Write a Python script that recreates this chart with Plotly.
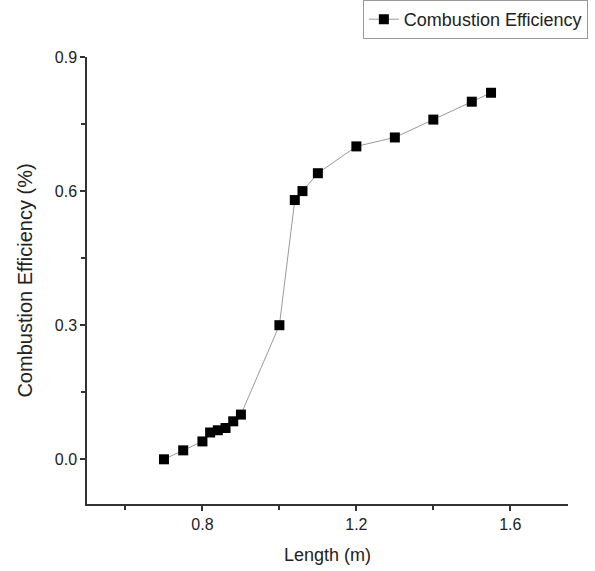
import plotly.graph_objects as go

length_m = [0.70, 0.75, 0.80, 0.82, 0.84, 0.86, 0.88, 0.90, 1.00, 1.04, 1.06, 1.10, 1.20, 1.30, 1.40, 1.50, 1.55]
efficiency = [0.00, 0.02, 0.04, 0.06, 0.065, 0.07, 0.085, 0.10, 0.30, 0.58, 0.60, 0.64, 0.70, 0.72, 0.76, 0.80, 0.82]
x_ticks = [0.8, 1.2, 1.6]
y_ticks = [0.0, 0.3, 0.6, 0.9]

fig = go.Figure()
fig.add_trace(go.Scatter(
    x=length_m, y=efficiency, mode="lines+markers",
    name="Combustion Efficiency",
    line=dict(color="#9a9a9a", width=1),
    marker=dict(symbol="square", size=10, color="black"),
))

font = "Liberation Sans, Arial, sans-serif"
fig.update_layout(
    width=595, height=571,
    margin=dict(l=87, r=27, t=57, b=67),
    paper_bgcolor="white", plot_bgcolor="white",
    font=dict(family=font, color="#222"),
    showlegend=True,
    legend=dict(xref="container", yref="container", x=0.988, y=1.0,
                xanchor="right", yanchor="top", orientation="h",
                bordercolor="#999", borderwidth=1, bgcolor="white",
                font=dict(size=18, family=font), itemwidth=30,
                tracegroupgap=0),
    xaxis=dict(range=[0.5, 1.75], tickvals=x_ticks, ticktext=[f"{v:.1f}" for v in x_ticks],
               automargin=False,
               showgrid=False, zeroline=False, showline=True, linecolor="#333", linewidth=1.5,
               ticks="outside", ticklen=5, tickcolor="#333", tickwidth=1.5,
               tickfont=dict(size=16), title=dict(text="Length (m)", font=dict(size=18), standoff=16),
               minor=dict(tickvals=[0.6, 1.0, 1.4], ticks="outside", ticklen=4, tickcolor="#333")),
    yaxis=dict(range=[-0.1, 0.9], tickvals=y_ticks, ticktext=[f"{v:.1f}" for v in y_ticks],
               automargin=False,
               showgrid=False, zeroline=False, showline=True, linecolor="#333", linewidth=1.5,
               ticks="outside", ticklen=5, tickcolor="#333", tickwidth=1.5,
               tickfont=dict(size=16), title=dict(text="Combustion Efficiency (%)", font=dict(size=20), standoff=17),
               minor=dict(tickvals=[0.15, 0.45, 0.75], ticks="outside", ticklen=4, tickcolor="#333")),
)
fig.write_html("out.html", config={"displayModeBar": False},
               post_script="document.body.style.margin='0';")
